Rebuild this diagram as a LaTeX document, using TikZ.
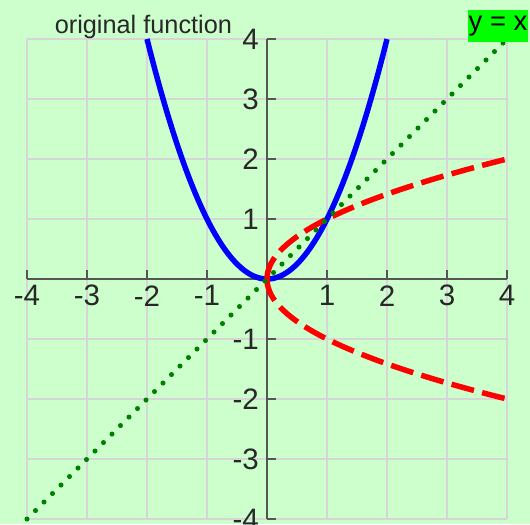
\documentclass[tikz,border=0pt]{standalone}
\usepackage{fontspec}
\setmainfont{Liberation Sans}
\usepackage{xcolor}
\usetikzlibrary{positioning}

\definecolor{bgmint}{RGB}{204,255,204}
\definecolor{gridgray}{RGB}{214,214,214}
\definecolor{axisgray}{RGB}{85,85,85}
\definecolor{labelgray}{RGB}{40,40,40}
\definecolor{curvegreen}{RGB}{0,128,0}
\definecolor{boxgreen}{RGB}{0,255,0}

\begin{document}
\begin{tikzpicture}[
        gridline/.style={gridgray, line width=1pt},
        axisline/.style={axisgray, line width=1.4pt},
        tickmark/.style={axisgray, line width=1pt},
        ticklabel/.style={font=\fontsize{14}{14}\selectfont, text=labelgray, inner sep=0pt},
        parabola/.style={blue, line width=2.6pt},
        rootcurve/.style={red, line width=2.6pt, dash pattern=on 11pt off 4pt},
        identity/.style={curvegreen, line width=2.4pt, line cap=round, dash pattern=on 0pt off 5.7pt},
    ]
        % Background
        \fill[bgmint] (-4.45,-4.083) rectangle (4.383,4.65);
        \useasboundingbox (-4.45,-4.083) rectangle (4.383,4.65);

        % Grid
        \foreach \k in {-4,...,4} {
            \draw[gridline] (\k,-4) -- (\k,4);
            \draw[gridline] (-4,\k) -- (4,\k);
        }

        % Axes
        \draw[axisline] (-4,0) -- (4,0);
        \draw[axisline] (0,-4) -- (0,4);
        \foreach \k in {-4,...,4} {
            \draw[tickmark] (\k,0) -- (\k,0.15);
            \draw[tickmark] (0,\k) -- (0.15,\k);
        }

        % Tick labels
        \foreach \k in {-4,-3,-2,-1,1,2,3,4} {
            \node[ticklabel] (xl\k) at (\k,-0.28) {\k};
            \node[ticklabel, anchor=east] (yl\k) at (-0.13,\k) {\k};
        }

        % Curves
        \draw[parabola] plot[domain=-2:2, samples=80, smooth] (\x, {\x*\x});
        \draw[rootcurve] plot[domain=0:2, samples=60, smooth] ({\x*\x}, {\x});
        \draw[rootcurve] plot[domain=0:2, samples=60, smooth] ({\x*\x}, {-\x});
        \draw[identity] (-4,-4) -- (4,4);

        % Labels
        \node[anchor=base, font=\fontsize{12}{12}\selectfont, text=labelgray, inner sep=0pt]
            (title) at (-2.06,4.1) {original function};
        \node[fill=boxgreen, minimum width=1cm, minimum height=0.533cm, inner sep=0pt,
              font=\fontsize{13}{13}\selectfont] (eqlabel) at (3.85,4.22) {y = x};
    \end{tikzpicture}
\end{document}
